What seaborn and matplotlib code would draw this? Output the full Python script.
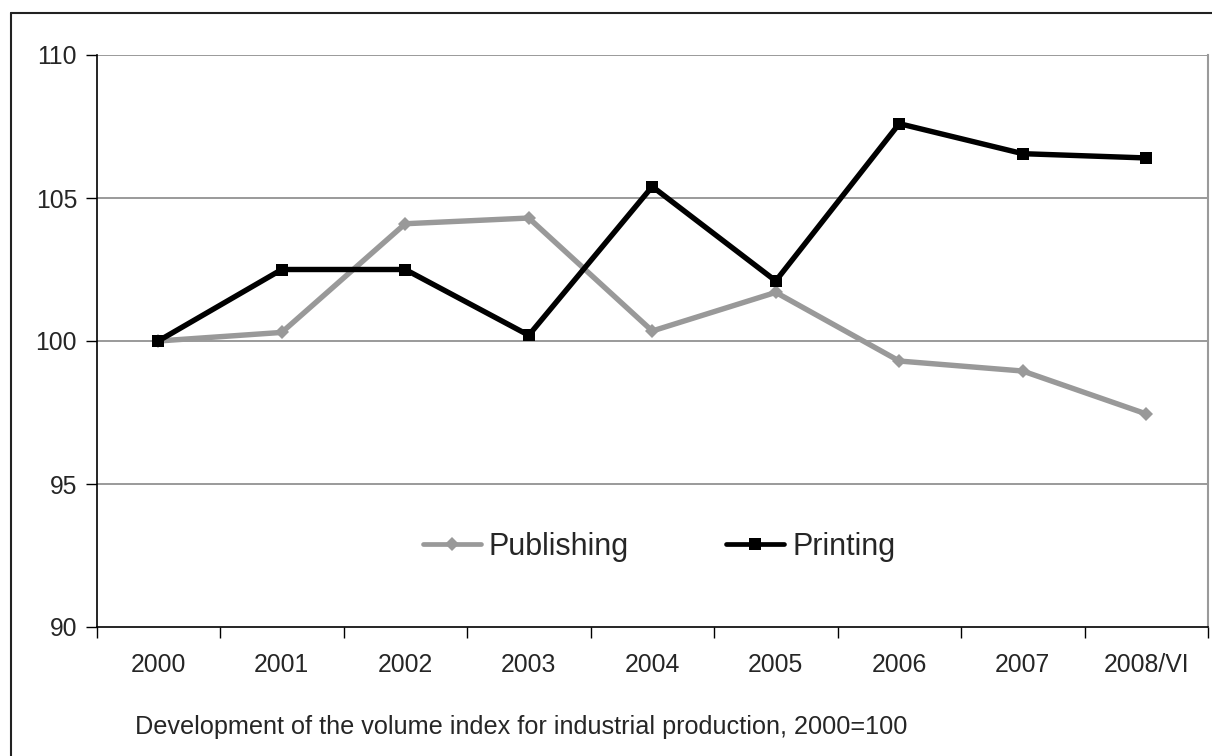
import matplotlib
matplotlib.use("Agg")
import matplotlib.pyplot as plt
from matplotlib.lines import Line2D
import numpy as np
import pandas as pd
import seaborn as sns

# Volume index of industrial production, 2000 = 100
periods = ["2000", "2001", "2002", "2003", "2004", "2005", "2006", "2007", "2008/VI"]
publishing = [100.0, 100.3, 104.1, 104.3, 100.35, 101.7, 99.3, 98.95, 97.45]
printing = [100.0, 102.5, 102.5, 100.2, 105.4, 102.1, 107.6, 106.55, 106.4]
y_ticks = [90, 95, 100, 105, 110]
caption = "Development of the volume index for industrial production, 2000=100"

sns.set_theme(style="white")
plt.rcParams["font.family"] = ["Liberation Sans", "DejaVu Sans"]

df = pd.DataFrame({
    "pos": np.arange(len(periods)),
    "Publishing": publishing,
    "Printing": printing,
})

fig = plt.figure(figsize=(12.12, 7.56), dpi=100)
ax = fig.add_axes([96.5 / 1212, (756 - 627) / 756, (1208 - 96.5) / 1212, (627 - 55) / 756])

sns.lineplot(data=df, x="pos", y="Publishing", ax=ax, color="#999999", lw=3.9,
             marker="D", markersize=7, markeredgewidth=0, label="Publishing", zorder=3)
sns.lineplot(data=df, x="pos", y="Printing", ax=ax, color="black", lw=3.9,
             marker="s", markersize=8.5, markeredgewidth=0, label="Printing", zorder=4)

ax.set_xlim(-0.5, len(periods) - 0.5)
ax.set_ylim(90, 110)
ax.set_xlabel("")
ax.set_ylabel("")

tick_fs = 17.8

# category labels without tick marks; tick marks on the category boundaries
ax.set_xticks(np.arange(len(periods)))
ax.set_xticklabels(periods, fontsize=tick_fs)
ax.set_xticks(np.arange(-0.5, len(periods)), minor=True)
ax.tick_params(axis="x", which="major", length=0, pad=18.5)
ax.tick_params(axis="x", which="minor", length=8, width=1, color="black", bottom=True)

ax.set_yticks(y_ticks)
ax.set_yticklabels([str(t) for t in y_ticks], fontsize=tick_fs)
ax.tick_params(axis="y", length=8, width=1, color="black", left=True, pad=6)

for t in y_ticks[1:]:
    ax.axhline(t, color="#7f7f7f", lw=1.1, zorder=1)

for side in ["left", "bottom"]:
    ax.spines[side].set_color("black")
    ax.spines[side].set_linewidth(1.2)
ax.spines["right"].set_color("#9a9a9a")
ax.spines["right"].set_linewidth(1.5)
ax.spines["top"].set_visible(False)

handles = [
    Line2D([], [], color="#999999", lw=3.4, marker="D", markersize=7, markeredgewidth=0),
    Line2D([], [], color="black", lw=3.4, marker="s", markersize=8.5, markeredgewidth=0),
]
ax.legend(handles, ["Publishing", "Printing"], loc="center", bbox_to_anchor=(0.506, 0.14),
          ncol=2, frameon=False, fontsize=22, handlelength=1.9, handletextpad=0.25,
          columnspacing=3.2)

fig.text(135 / 1212, 1 - 727 / 756, caption, fontsize=18.2, ha="left", va="center")

# outer frame around the chart
fig.add_artist(Line2D([11 / 1212, 1.0], [1 - 13 / 756, 1 - 13 / 756],
                      transform=fig.transFigure, color="#222222", lw=1.5))
fig.add_artist(Line2D([11 / 1212, 11 / 1212], [0.0, 1 - 13 / 756],
                      transform=fig.transFigure, color="#222222", lw=1.5))

fig.savefig("out.png", dpi=100, facecolor="white")
